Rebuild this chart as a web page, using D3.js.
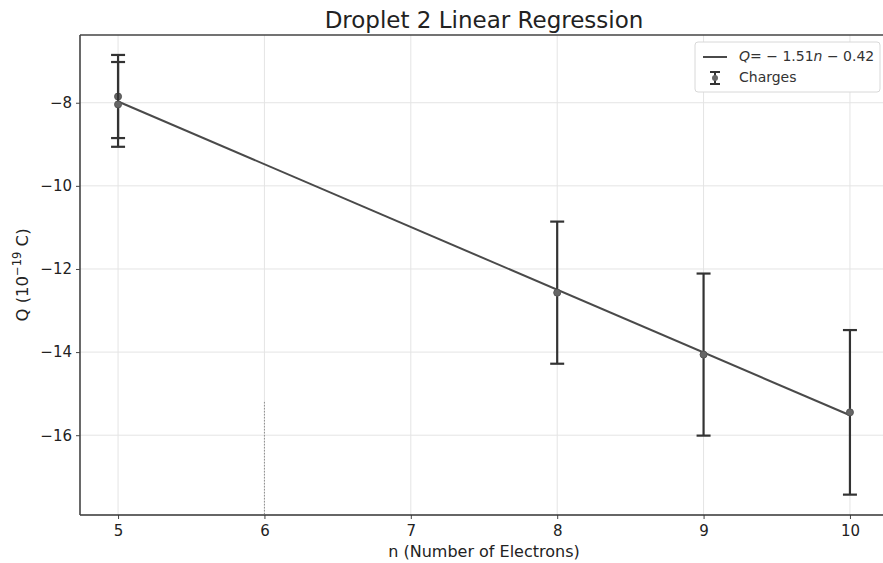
<!DOCTYPE html>
<html>
<head>
<meta charset="utf-8">
<script src="https://cdn.jsdelivr.net/npm/d3@7"></script>
<style>
  body { margin: 0; background: #fff; }
  text { font-family: "DejaVu Sans", sans-serif; }
</style>
</head>
<body>
<div id="chart"></div>
<script>
const width = 883;
const height = 563;
const margin = { top: 35, right: -5, bottom: 48, left: 80 };

// measured charges (n, Q in 1e-19 C, error)
const electrons = [5, 5, 8, 9, 10];
const charges = [-7.85, -8.04, -12.57, -14.06, -15.45];
const errors = [1.0, 1.02, 1.71, 1.95, 1.98];

const slope = -1.51;
const intercept = -0.42;
const fitRange = [5, 10];

const xTicks = [5, 6, 7, 8, 9, 10];
const yTicks = [-8, -10, -12, -14, -16];

const data = electrons.map((n, i) => ({ n: n, q: charges[i], err: errors[i] }));

const svg = d3.select("#chart")
    .append("svg")
    .attr("width", width)
    .attr("height", height);

const innerW = width - margin.left - margin.right;
const innerH = height - margin.top - margin.bottom;

const g = svg.append("g")
    .attr("transform", `translate(${margin.left}, ${margin.top})`);

const xScale = d3.scaleLinear()
    .domain([4.74, 10.26])
    .range([0, innerW]);

const yScale = d3.scaleLinear()
    .domain([-17.92, -6.37])
    .range([innerH, 0]);

// grid
g.selectAll(".xgrid")
    .data(xTicks)
    .enter().append("line")
    .attr("x1", d => xScale(d)).attr("x2", d => xScale(d))
    .attr("y1", 0).attr("y2", innerH)
    .attr("stroke", "#e4e4e4")
    .attr("stroke-width", 1);

g.selectAll(".ygrid")
    .data(yTicks)
    .enter().append("line")
    .attr("x1", 0).attr("x2", innerW)
    .attr("y1", d => yScale(d)).attr("y2", d => yScale(d))
    .attr("stroke", "#e4e4e4")
    .attr("stroke-width", 1);

// axes
const xAxis = d3.axisBottom(xScale).tickValues(xTicks).tickSize(4).tickPadding(6)
    .tickFormat(d3.format("d"));
const yAxis = d3.axisLeft(yScale).tickValues(yTicks).tickSize(4).tickPadding(4)
    .tickFormat(d => d3.format("d")(d).replace("-", "\u2212"));

const xAxisGroup = g.append("g")
    .attr("transform", `translate(0, ${innerH})`)
    .call(xAxis);
const yAxisGroup = g.append("g").call(yAxis);

[xAxisGroup, yAxisGroup].forEach(ax => {
    ax.select(".domain").remove();
    ax.selectAll(".tick line").attr("stroke", "#444");
    ax.selectAll(".tick text")
        .attr("fill", "#222")
        .style("font-size", "15px");
});

// spines
g.append("line").attr("x1", 0).attr("x2", innerW).attr("y1", 0).attr("y2", 0)
    .attr("stroke", "#444").attr("stroke-width", 1.6);
g.append("line").attr("x1", 0).attr("x2", innerW).attr("y1", innerH).attr("y2", innerH)
    .attr("stroke", "#333").attr("stroke-width", 1.6);
g.append("line").attr("x1", 0).attr("x2", 0).attr("y1", 0).attr("y2", innerH)
    .attr("stroke", "#444").attr("stroke-width", 1.6);

// scan artefact
g.append("line")
    .attr("x1", xScale(6)).attr("x2", xScale(6))
    .attr("y1", yScale(-15.2)).attr("y2", innerH)
    .attr("stroke", "#777")
    .attr("stroke-width", 0.8)
    .attr("stroke-dasharray", "1.5,1.5");

// regression line
g.append("line")
    .attr("x1", xScale(fitRange[0]))
    .attr("y1", yScale(slope * fitRange[0] + intercept))
    .attr("x2", xScale(fitRange[1]))
    .attr("y2", yScale(slope * fitRange[1] + intercept))
    .attr("stroke", "#4a4a4a")
    .attr("stroke-width", 2);

// error bars
const capW = 7;
const bars = g.selectAll(".errbar")
    .data(data)
    .enter().append("g")
    .attr("class", "errbar");

bars.append("line")
    .attr("x1", d => xScale(d.n)).attr("x2", d => xScale(d.n))
    .attr("y1", d => yScale(d.q + d.err)).attr("y2", d => yScale(d.q - d.err))
    .attr("stroke", "#333").attr("stroke-width", 2.2);

bars.append("line")
    .attr("x1", d => xScale(d.n) - capW).attr("x2", d => xScale(d.n) + capW)
    .attr("y1", d => yScale(d.q + d.err)).attr("y2", d => yScale(d.q + d.err))
    .attr("stroke", "#333").attr("stroke-width", 2.2);

bars.append("line")
    .attr("x1", d => xScale(d.n) - capW).attr("x2", d => xScale(d.n) + capW)
    .attr("y1", d => yScale(d.q - d.err)).attr("y2", d => yScale(d.q - d.err))
    .attr("stroke", "#333").attr("stroke-width", 2.2);

bars.append("circle")
    .attr("cx", d => xScale(d.n))
    .attr("cy", d => yScale(d.q))
    .attr("r", 3.5)
    .attr("fill", "#666")
    .attr("stroke", "#555")
    .attr("stroke-width", 1);

// title and labels
svg.append("text")
    .attr("x", margin.left + innerW / 2)
    .attr("y", 28)
    .attr("text-anchor", "middle")
    .attr("fill", "#222")
    .style("font-size", "23px")
    .text("Droplet 2 Linear Regression");

svg.append("text")
    .attr("x", margin.left + innerW / 2)
    .attr("y", 557)
    .attr("text-anchor", "middle")
    .attr("fill", "#222")
    .style("font-size", "16px")
    .text("n (Number of Electrons)");

const yLabel = svg.append("text")
    .attr("transform", `translate(28, ${margin.top + innerH / 2}) rotate(-90)`)
    .attr("text-anchor", "middle")
    .attr("fill", "#222")
    .style("font-size", "16.5px");
yLabel.append("tspan").text("Q (10");
yLabel.append("tspan").attr("dy", -7).style("font-size", "11.5px").text("\u221219");
yLabel.append("tspan").attr("dy", 7).text(" C)");

// legend
const legend = svg.append("g")
    .attr("transform", "translate(695, 42)");

legend.append("rect")
    .attr("width", 185)
    .attr("height", 50)
    .attr("rx", 3)
    .attr("fill", "#fff")
    .attr("stroke", "#d8d8d8");

legend.append("line")
    .attr("x1", 8).attr("x2", 32).attr("y1", 15).attr("y2", 15)
    .attr("stroke", "#4a4a4a").attr("stroke-width", 2);

const eq = legend.append("text")
    .attr("x", 44).attr("y", 19)
    .attr("fill", "#333")
    .style("font-size", "14px");
eq.append("tspan").style("font-style", "italic").text("Q");
eq.append("tspan").text("= \u2212 1.51");
eq.append("tspan").style("font-style", "italic").text("n");
eq.append("tspan").text(" \u2212 0.42");

const sym = legend.append("g").attr("transform", "translate(20, 36)");
sym.append("line").attr("x1", 0).attr("x2", 0).attr("y1", -6).attr("y2", 6)
    .attr("stroke", "#333").attr("stroke-width", 2);
sym.append("line").attr("x1", -5).attr("x2", 5).attr("y1", -6).attr("y2", -6)
    .attr("stroke", "#333").attr("stroke-width", 2);
sym.append("line").attr("x1", -5).attr("x2", 5).attr("y1", 6).attr("y2", 6)
    .attr("stroke", "#333").attr("stroke-width", 2);
sym.append("circle").attr("r", 3).attr("fill", "#666");

legend.append("text")
    .attr("x", 44).attr("y", 40)
    .attr("fill", "#333")
    .style("font-size", "14px")
    .text("Charges");
</script>
</body>
</html>
